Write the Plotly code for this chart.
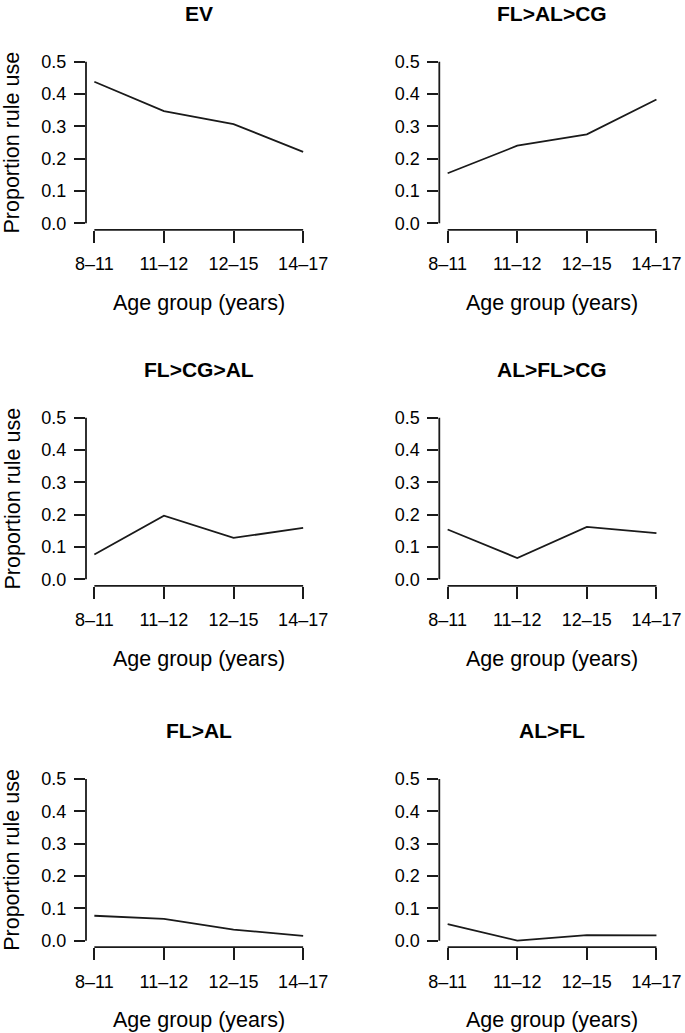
import plotly.graph_objects as go

# ---- data ----
age_groups = ["8\u201311", "11\u201312", "12\u201315", "14\u201317"]
panel_titles = ["EV", "FL>AL>CG", "FL>CG>AL", "AL>FL>CG", "FL>AL", "AL>FL"]
ev = [0.438, 0.347, 0.307, 0.221]
fl_al_cg = [0.155, 0.240, 0.275, 0.383]
fl_cg_al = [0.077, 0.197, 0.128, 0.159]
al_fl_cg = [0.154, 0.066, 0.162, 0.143]
fl_al = [0.077, 0.067, 0.034, 0.015]
al_fl = [0.051, 0.000, 0.017, 0.016]
y_ticks = [0.0, 0.1, 0.2, 0.3, 0.4, 0.5]
series = [ev, fl_al_cg, fl_cg_al, al_fl_cg, fl_al, al_fl]

# ---- layout geometry (pixels) ----
W, H = 685, 1033
col_left = [86.0, 439.3]
col_w = 225.5
row_top = [55.2, 411.2, 772.5]
row_h = 174.6
FONT = "Liberation Sans, Arial, Helvetica, sans-serif"
INK = "#1a1a1a"

x_pos = list(range(1, len(age_groups) + 1))

fig = go.Figure()
layout = dict(template="none", width=W, height=H,
              margin=dict(l=0, r=0, t=0, b=0, pad=0), autosize=False,
              paper_bgcolor="white", plot_bgcolor="white", showlegend=False,
              font=dict(family=FONT, color="black"))
shapes, annotations = [], []

for i, (title, vals) in enumerate(zip(panel_titles, series)):
    r, c = divmod(i, 2)
    n = i + 1
    xa = "xaxis" if n == 1 else f"xaxis{n}"
    ya = "yaxis" if n == 1 else f"yaxis{n}"
    xr = "x" if n == 1 else f"x{n}"
    yr = "y" if n == 1 else f"y{n}"
    x0p = col_left[c] / W
    x1p = (col_left[c] + col_w) / W
    y1p = 1 - row_top[r] / H
    y0p = 1 - (row_top[r] + row_h) / H

    fig.add_trace(go.Scatter(x=x_pos, y=vals, mode="lines",
                             line=dict(color=INK, width=1.8),
                             xaxis=xr, yaxis=yr, hoverinfo="skip"))

    layout[xa] = dict(domain=[x0p, x1p], anchor=yr, range=[0.88, 4.12],
                      automargin=False,
                      showgrid=False, zeroline=False, showline=False,
                      tickmode="array", tickvals=x_pos, ticktext=age_groups,
                      ticks="outside", ticklen=12, tickwidth=1.8, tickcolor=INK,
                      ticklabelstandoff=6,
                      tickfont=dict(size=18, family=FONT, color="black"),
                      fixedrange=True)
    layout[ya] = dict(domain=[y0p, y1p], anchor=xr, range=[-0.02, 0.52],
                      automargin=False,
                      showgrid=False, zeroline=False, showline=False,
                      tickmode="array", tickvals=y_ticks,
                      ticktext=[f"{v:.1f}" for v in y_ticks],
                      ticks="outside", ticklen=11, tickwidth=1.8, tickcolor=INK,
                      ticklabelstandoff=4,
                      tickfont=dict(size=18, family=FONT, color="black"),
                      fixedrange=True)

    # R-style detached axis lines
    shapes.append(dict(type="line", xref=f"{xr} domain", yref=yr,
                       x0=0, x1=0, y0=y_ticks[0], y1=y_ticks[-1],
                       line=dict(color=INK, width=1.8)))
    shapes.append(dict(type="line", xref=xr, yref=f"{yr} domain",
                       x0=x_pos[0], x1=x_pos[-1], y0=0, y1=0,
                       line=dict(color=INK, width=1.8)))

    xc = (x0p + x1p) / 2
    annotations.append(dict(text=f"<b>{title}</b>", xref="paper", yref="paper",
                            x=xc, y=1 - (row_top[r] - 42) / H, showarrow=False,
                            xanchor="center", yanchor="middle",
                            font=dict(size=21, family=FONT, color="black")))
    annotations.append(dict(text="Age group (years)", xref="paper", yref="paper",
                            x=xc, y=1 - (row_top[r] + row_h + 73) / H,
                            showarrow=False, xanchor="center", yanchor="middle",
                            font=dict(size=21.5, family=FONT, color="black")))
    if c == 0:
        annotations.append(dict(text="Proportion rule use", xref="paper", yref="paper",
                                x=12 / W, y=1 - (row_top[r] + row_h / 2) / H,
                                textangle=-90, showarrow=False,
                                xanchor="center", yanchor="middle",
                                font=dict(size=21.5, family=FONT, color="black")))

layout["shapes"] = shapes
layout["annotations"] = annotations
fig.update_layout(**layout)

fig.write_html(
    "out.html",
    post_script=("document.documentElement.style.margin='0';"
                 "document.body.style.margin='0';"
                 "document.body.style.padding='0';"
                 "document.documentElement.style.overflow='hidden';"),
    config={"displayModeBar": False},
)
